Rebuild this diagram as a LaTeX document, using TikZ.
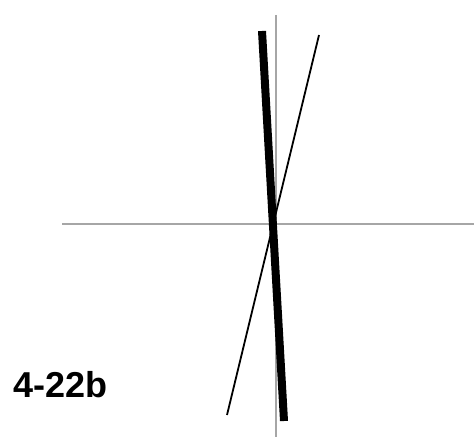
\documentclass[tikz,border=0pt]{standalone}
\usepackage{fontspec}
\setmainfont{Liberation Sans}
\begin{document}
\begin{tikzpicture}[x=1pt,y=-1pt,
  axis/.style={draw=black!35,line width=1.5pt},
  thickline/.style={draw=black,line width=8pt},
  thinline/.style={draw=black,line width=1.8pt},
  lbl/.style={font=\bfseries\fontsize{36}{40}\selectfont,anchor=base west,inner sep=0pt}]
\useasboundingbox (0,0) rectangle (474,441);
\coordinate (hl) at (62,224);
\coordinate (hr) at (474,224);
\coordinate (vt) at (276,15);
\coordinate (vb) at (276,437);
\draw[axis] (hl) -- (hr);
\draw[axis] (vt) -- (vb);
\coordinate (at) at (262,31);
\coordinate (ab) at (284,421);
\draw[thickline] (at) -- (ab);
\coordinate (bt) at (319,35);
\coordinate (bb) at (227,415);
\draw[thinline] (bt) -- (bb);
\node[lbl] (label) at (13,397) {4-22b};
\end{tikzpicture}
\end{document}
